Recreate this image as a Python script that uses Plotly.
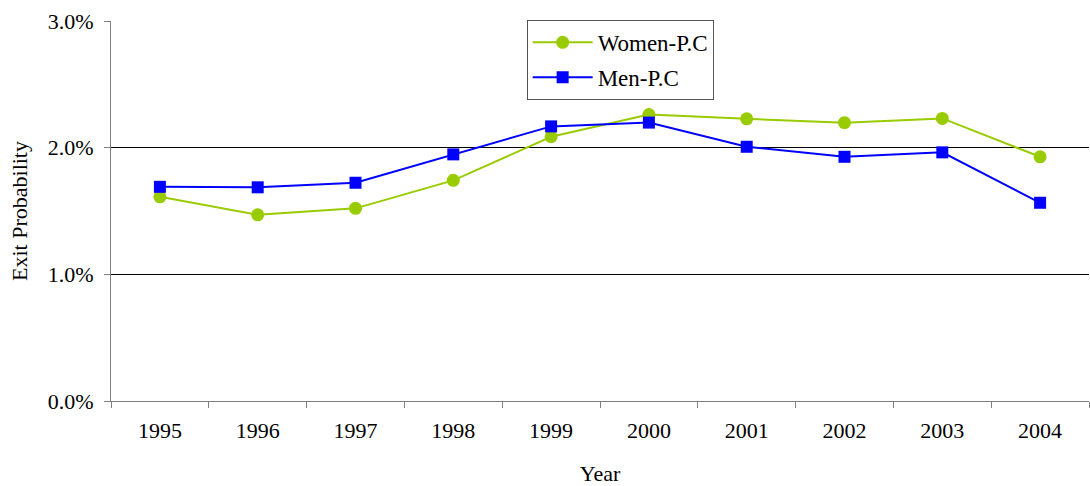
import plotly.graph_objects as go

years = ["1995", "1996", "1997", "1998", "1999", "2000", "2001", "2002", "2003", "2004"]
women_pc = [0.01612, 0.01470, 0.01521, 0.01742, 0.02086, 0.02262, 0.02228, 0.02197, 0.02231, 0.01928]
men_pc = [0.01691, 0.01687, 0.01723, 0.01947, 0.02168, 0.02198, 0.02007, 0.01928, 0.01963, 0.01565]

FONT = "Liberation Serif, DejaVu Serif, serif"

fig = go.Figure()
fig.add_trace(go.Scatter(
    x=years, y=women_pc, name="Women-P.C", mode="lines+markers",
    line=dict(color="#99CC00", width=2),
    marker=dict(symbol="circle", size=13, color="#99CC00"),
    legendgroup="w",
))
fig.add_trace(go.Scatter(
    x=years, y=men_pc, name="Men-P.C", mode="lines+markers",
    line=dict(color="#0000FF", width=2),
    marker=dict(symbol="square", size=12, color="#0000FF"),
    legendgroup="m",
))

fig.update_layout(
    width=1090, height=486,
    margin=dict(l=111, r=1, t=21, b=85),
    paper_bgcolor="white", plot_bgcolor="white",
    font=dict(family=FONT, size=22, color="black"),
    showlegend=True,
    legend=dict(
        x=0.425, y=1.003, xanchor="left", yanchor="top",
        bgcolor="white", bordercolor="#555555", borderwidth=1,
        font=dict(family=FONT, size=23, color="black"), tracegroupgap=2,
        traceorder="grouped", itemwidth=60,
    ),
    xaxis=dict(
        type="category", range=[-0.5, 9.5],
        showgrid=False, showline=True, linecolor="#808080", linewidth=1,
        ticks="outside", tickson="boundaries", ticklen=6, tickcolor="#808080",
        ticklabelstandoff=10,
        title=dict(text="Year", standoff=26, font=dict(family=FONT, size=22)),
        tickfont=dict(family=FONT, size=22),
    ),
    yaxis=dict(
        range=[0, 0.03], tickvals=[0, 0.01, 0.02, 0.03], tickformat=".1%",
        showgrid=True, gridcolor="black", gridwidth=1,
        showline=True, linecolor="#808080", linewidth=1,
        ticks="outside", ticklen=6, tickcolor="#808080",
        ticklabelstandoff=6,
        zeroline=False,
        title=dict(text="Exit Probability", standoff=14, font=dict(family=FONT, size=22)),
        tickfont=dict(family=FONT, size=22),
    ),
)

fig.write_html("out.html")
